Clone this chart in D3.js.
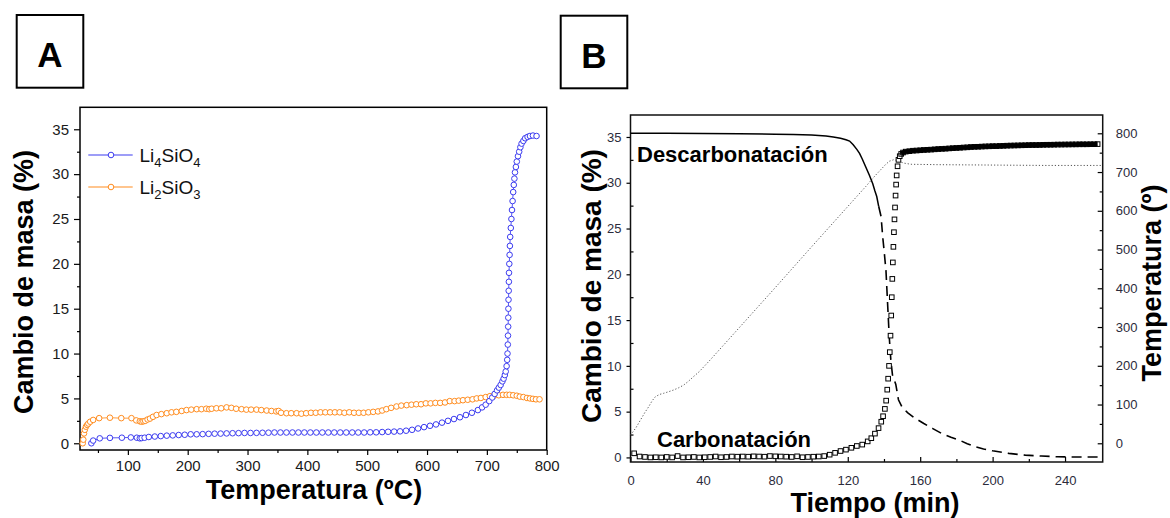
<!DOCTYPE html>
<html><head><meta charset="utf-8">
<script src="https://cdn.jsdelivr.net/npm/d3@7"></script>
<style>
html,body{margin:0;padding:0;background:#fff;}
svg{display:block;font-family:"Liberation Sans",Arial,sans-serif;}
</style></head>
<body><svg id="c" width="1170" height="518"></svg>
<script>
// ---------- Panel A data: [Temperatura (ºC), Cambio de masa (%)] ----------
const li4SiO4 = [[39,0.0],[42,0.3],[53,0.55],[70,0.6],[90,0.62],[105,0.65],[115,0.62],[120,0.55],[123,0.58],[128,0.62],[135,0.7],[145,0.75],[155,0.8],[165,0.85],[175,0.88],[185,0.92],[195,0.95],[205,1.0],[215,1.0],[225,1.02],[235,1.05],[245,1.07],[255,1.08],[265,1.1],[275,1.12],[285,1.13],[295,1.15],[305,1.15],[315,1.16],[325,1.17],[335,1.18],[345,1.2],[355,1.2],[365,1.2],[375,1.2],[385,1.2],[395,1.2],[405,1.2],[415,1.2],[425,1.2],[435,1.2],[445,1.2],[455,1.2],[465,1.2],[475,1.2],[485,1.2],[495,1.2],[505,1.22],[515,1.22],[525,1.25],[535,1.28],[545,1.3],[555,1.33],[565,1.4],[575,1.5],[585,1.65],[595,1.8],[605,1.95],[615,2.1],[625,2.3],[635,2.5],[645,2.7],[655,2.9],[665,3.15],[675,3.4],[685,3.7],[692,4.0],[698,4.3],[704,4.7],[709,5.1],[713,5.5],[717,5.9],[720,6.2],[723,6.5],[726,6.9],[728,7.2],[730,7.6],[731.5,8.0],[733,8.6],[734,9.3],[734.5,10],[735,11],[735.3,12],[735.6,13],[735.8,14],[736,15],[736.2,16],[736.5,17],[736.8,18],[737,19],[737.5,20],[738,21],[738.5,22],[739,23],[740,24],[741,25],[742,26],[743,27],[744,28],[745,28.8],[746,29.5],[747,30.2],[748.5,30.8],[750,31.4],[752,32],[754,32.5],[756,33],[758,33.4],[761,33.7],[764,34],[768,34.15],[772,34.25],[777,34.3],[783,34.25]];
const li2SiO3 = [[24.5,0],[25.5,0.4],[26.7,1.1],[28,1.5],[30,1.85],[32,2.05],[34,2.2],[37,2.4],[42,2.6],[52,2.8],[70,2.85],[89,2.8],[106,2.8],[114,2.55],[120,2.45],[123,2.4],[126,2.45],[129,2.5],[133,2.65],[137,2.75],[142,2.95],[148,3.15],[156,3.25],[165,3.35],[173,3.45],[181,3.5],[190,3.6],[198,3.7],[206,3.75],[215,3.8],[223,3.8],[231,3.85],[236,3.8],[240,3.85],[248,3.9],[256,3.9],[265,4.0],[273,3.95],[281,3.85],[290,3.8],[298,3.75],[306,3.75],[315,3.75],[323,3.7],[332,3.65],[340,3.6],[348,3.55],[352,3.6],[356,3.4],[365,3.35],[373,3.35],[382,3.35],[390,3.3],[398,3.35],[406,3.4],[414,3.4],[422,3.45],[430,3.45],[438,3.45],[446,3.45],[454,3.45],[462,3.4],[470,3.45],[478,3.4],[486,3.4],[494,3.4],[502,3.45],[510,3.5],[518,3.55],[525,3.65],[532,3.8],[540,3.95],[549,4.1],[557,4.2],[566,4.25],[574,4.3],[582,4.35],[590,4.35],[598,4.45],[606,4.45],[614,4.5],[622,4.5],[630,4.55],[638,4.7],[646,4.7],[653,4.75],[660,4.8],[668,4.85],[676,4.9],[683,5.0],[690,5.05],[698,5.15],[705,5.25],[712,5.3],[720,5.35],[727,5.4],[733,5.4],[738,5.4],[744,5.35],[750,5.3],[755,5.2],[761,5.15],[767,5.05],[772,5.0],[777,4.95],[782,4.9],[788,4.9]];
const ticksAX = [100,200,300,400,500,600,700,800];
const ticksAY = [0,5,10,15,20,25,30,35];

// ---------- Panel B data: [Tiempo (min), value] ----------
const carbonatacion = [[2,0.45],[5,0.1],[8,0.05],[11,0.0],[14,0.02],[17,0.0],[20,0.05],[23,0.0],[26,0.15],[29,0.0],[32,0.02],[35,0.05],[38,0.0],[41,0.02],[44,0.05],[47,0.1],[50,0.02],[53,0.05],[56,0.1],[59,0.08],[62,0.1],[65,0.08],[68,0.12],[71,0.1],[74,0.08],[77,0.15],[80,0.12],[83,0.1],[86,0.08],[89,0.05],[92,0.12],[95,0.02],[98,0.05],[101,0.08],[104,0.1],[107,0.15],[110,0.3],[113,0.5],[116,0.7],[119,0.85],[122,1.05],[125,1.25],[128,1.4],[131,1.75],[133,2.1],[135,2.6],[137,3.2],[138.5,3.9],[139.5,4.5],[140.5,5.3],[141.2,6.2],[141.8,7.4],[142.3,8.6],[142.8,10],[143.2,11.5],[143.6,13.3],[144,15.5],[144.3,17.5],[144.6,19.5],[144.9,21.3],[145.2,23],[145.5,24.6],[145.8,26],[146.1,27.3],[146.4,28.6],[146.7,29.8],[147,30.8],[147.5,31.8],[148,32.5],[148.7,32.9],[149.5,33.15],[150.5,33.3],[152,33.4],[154,33.45],[156,33.5],[158,33.52],[160,33.55],[162,33.58],[164,33.6],[166,33.62],[168,33.65],[170,33.68],[172,33.7],[174,33.72],[176,33.75],[178,33.78],[180,33.8],[182,33.82],[184,33.85],[186,33.87],[188,33.9],[190,33.92],[192,33.93],[194,33.95],[196,33.97],[198,33.98],[200,34.0],[202,34.0],[204,34.02],[206,34.03],[208,34.05],[210,34.06],[212,34.07],[214,34.08],[216,34.09],[218,34.1],[220,34.11],[222,34.12],[224,34.12],[226,34.13],[228,34.14],[230,34.15],[232,34.15],[234,34.16],[236,34.17],[238,34.17],[240,34.18],[242,34.18],[244,34.19],[246,34.19],[248,34.2],[250,34.2],[252,34.2],[254,34.21],[256,34.21],[258,34.22]];
const descarbSolid = [[0,35.4],[20,35.4],[40,35.38],[60,35.36],[80,35.3],[90,35.27],[100,35.22],[108,35.1],[112,35.0],[116,34.85],[119,34.7],[121,34.55],[123,34.15],[125,33.65],[126.5,33.2],[128,32.6],[130,31.7],[132,30.8],[133.8,29.9],[135,29.1],[136,28.5],[137.1,27.4]];
const descarbDashed = [[137.1,27.4],[138.4,26.3],[139.3,24.1],[140.2,22.3],[141.1,20.4],[142,16.8],[142.9,13.2],[143.8,10.6],[144.7,9.0],[146.5,8.0],[148,6.3],[150,5.5],[153,4.9],[157,4.3],[162,3.7],[167,3.15],[172,2.6],[177,2.2],[181.5,1.9],[186,1.5],[190.6,1.16],[195,0.92],[200,0.72],[209,0.44],[218,0.25],[227,0.15],[236,0.07],[245,0.05],[258.5,0.05]];
const temperatura = [[0,21],[3,40],[5.5,60],[8,80],[10,94],[12,110],[13.7,120],[16,126],[18.3,129],[21,133],[23.8,137.5],[26.5,143],[29.3,150],[32,160],[34.8,172],[38,185],[41,200],[44,215],[60,298],[80,402],[100,507],[120,611],[130,663],[135,690],[138,705],[141,720],[143,728],[145.5,732],[148,728],[151,723],[155,720],[170,719],[200,718],[230,717],[260,717]];
const ticksBX = [0,40,80,120,160,200,240];
const ticksBY = [0,5,10,15,20,25,30,35];
const ticksBT = [0,100,200,300,400,500,600,700,800];

const svg = d3.select("#c");
const FONT = '"Liberation Sans",Arial,sans-serif';

// ---------- panel label boxes ----------
function panelLabel(x0,y0,x1,y1,txt,cx,by){
  svg.append("rect").attr("x",x0).attr("y",y0).attr("width",x1-x0).attr("height",y1-y0)
    .attr("fill","none").attr("stroke","#000").attr("stroke-width",2);
  svg.append("text").attr("x",cx).attr("y",by).attr("text-anchor","middle")
    .attr("font-size",35).attr("font-weight","bold").text(txt);
}
panelLabel(16.7,15,83.3,87.7,"A",50,67);
panelLabel(560.7,15.7,627.3,88.3,"B",594,67.5);

// ================= Panel A =================
const xA = d3.scaleLinear([20,800],[80,546.7]);
const yA = d3.scaleLinear([-0.75,37.45],[450,107.3]);
const gA = svg.append("g");

function styleAxis(g,color,fs){
  g.select(".domain").remove();
  g.selectAll("line").attr("stroke","#000").attr("stroke-width",1.2);
  g.selectAll("text").attr("fill",color).attr("font-size",fs).attr("font-family",FONT);
}
gA.append("g").attr("transform","translate(0,450)")
  .call(d3.axisBottom(xA).tickValues(ticksAX).tickSize(5).tickPadding(5))
  .call(g=>styleAxis(g,"#1a1a1a",15));
gA.append("g").attr("transform","translate(0,450)")
  .call(d3.axisBottom(xA).tickValues(d3.range(50,800,100)).tickSize(3).tickFormat(""))
  .call(g=>styleAxis(g,"#000",15));
gA.append("g").attr("transform","translate(80,0)")
  .call(d3.axisLeft(yA).tickValues(ticksAY).tickSize(6).tickPadding(5))
  .call(g=>styleAxis(g,"#1a1a1a",15));
gA.append("g").attr("transform","translate(80,0)")
  .call(d3.axisLeft(yA).tickValues(d3.range(2.5,37,5)).tickSize(3).tickFormat(""))
  .call(g=>styleAxis(g,"#000",15));
gA.append("rect").attr("x",80).attr("y",107.3).attr("width",466.7).attr("height",342.7)
  .attr("fill","none").attr("stroke","#000").attr("stroke-width",1.5);

const blue="#3c3cf0", orange="#ff8c1e";
const lineA = d3.line().x(d=>xA(d[0])).y(d=>yA(d[1]));
[[li2SiO3,orange],[li4SiO4,blue]].forEach(([data,col])=>{
  gA.append("path").attr("d",lineA(data)).attr("fill","none").attr("stroke",col).attr("stroke-width",1).attr("opacity",0.85);
  gA.selectAll(null).data(data).enter().append("circle")
    .attr("cx",d=>xA(d[0])).attr("cy",d=>yA(d[1])).attr("r",2.8)
    .attr("fill","#fff").attr("stroke",col).attr("stroke-width",1);
});

// legend
function legendItem(y,col,a,b,c){
  gA.append("line").attr("x1",88.3).attr("x2",132.7).attr("y1",y).attr("y2",y).attr("stroke",col).attr("stroke-width",1.2);
  gA.append("circle").attr("cx",111).attr("cy",y).attr("r",2.8).attr("fill","#fff").attr("stroke",col).attr("stroke-width",1);
  const t=gA.append("text").attr("x",139.5).attr("y",y+7).attr("font-size",19).attr("fill","#111");
  t.append("tspan").text(a);
  t.append("tspan").attr("dy",5).attr("font-size",13).text(b);
  t.append("tspan").attr("dy",-5).text("SiO");
  t.append("tspan").attr("dy",5).attr("font-size",13).text(c);
}
legendItem(155,blue,"Li","4","4");
legendItem(187,orange,"Li","2","3");

// axis titles A
svg.append("text").attr("transform","translate(33,282) rotate(-90)").attr("text-anchor","middle")
  .attr("font-size",27).attr("font-weight","bold").text("Cambio de masa (%)");
svg.append("text").attr("x",314).attr("y",499).attr("text-anchor","middle")
  .attr("font-size",27).attr("font-weight","bold").text("Temperatura (ºC)");

// ================= Panel B =================
const xB = d3.scaleLinear([0,260.8],[630.5,1102.7]);
const yB = d3.scaleLinear([-0.5,37.4],[462,115]);
const yT = d3.scaleLinear([-48.3,847.2],[462,115]);
const gB = svg.append("g");
const lblB="#2b2b3b";

gB.append("g").attr("transform","translate(0,462)")
  .call(d3.axisBottom(xB).tickValues(ticksBX).tickSizeInner(-5).tickSizeOuter(0).tickPadding(14))
  .call(g=>styleAxis(g,lblB,13));
gB.append("g").attr("transform","translate(0,462)")
  .call(d3.axisBottom(xB).tickValues(d3.range(20,260,40)).tickSizeInner(-3).tickSizeOuter(0).tickFormat(""))
  .call(g=>styleAxis(g,"#000",13));
gB.append("g").attr("transform","translate(630.5,0)")
  .call(d3.axisLeft(yB).tickValues(ticksBY).tickSize(4).tickPadding(5))
  .call(g=>styleAxis(g,lblB,13));
gB.append("g").attr("transform","translate(630.5,0)")
  .call(d3.axisLeft(yB).tickValues(d3.range(2.5,37,5)).tickSizeInner(-3).tickSizeOuter(0).tickFormat(""))
  .call(g=>styleAxis(g,"#000",13));
gB.append("g").attr("transform","translate(1102.7,0)")
  .call(d3.axisRight(yT).tickValues(ticksBT).tickSizeInner(-5).tickSizeOuter(0).tickPadding(13))
  .call(g=>styleAxis(g,lblB,13));
gB.append("g").attr("transform","translate(1102.7,0)")
  .call(d3.axisRight(yT).tickValues(d3.range(50,800,100)).tickSizeInner(-3).tickSizeOuter(0).tickFormat(""))
  .call(g=>styleAxis(g,"#000",13));
gB.append("rect").attr("x",630.5).attr("y",115).attr("width",472.2).attr("height",347)
  .attr("fill","none").attr("stroke","#111").attr("stroke-width",1.5);

const lineB = d3.line().x(d=>xB(d[0])).y(d=>yB(d[1]));
const lineT = d3.line().x(d=>xB(d[0])).y(d=>yT(d[1]));
gB.append("path").attr("d",lineT(temperatura)).attr("fill","none").attr("stroke","#555")
  .attr("stroke-width",1).attr("stroke-dasharray","1.2,2");
gB.append("path").attr("d",lineB(descarbSolid)).attr("fill","none").attr("stroke","#000").attr("stroke-width",1.5);
gB.append("path").attr("d",lineB(descarbDashed)).attr("fill","none").attr("stroke","#000").attr("stroke-width",1.6).attr("stroke-dasharray","10,6");
// dense plateau of carbonation squares merges into a dark band
const plateau = carbonatacion.filter(d=>d[0]>=149.5);
gB.append("path").attr("d",lineB(plateau)).attr("fill","none").attr("stroke","#000").attr("stroke-width",4.5);
gB.selectAll(null).data(carbonatacion).enter().append("rect")
  .attr("x",d=>xB(d[0])-2.3).attr("y",d=>yB(d[1])-2.3).attr("width",4.6).attr("height",4.6)
  .attr("fill",d=>d[0]>=149.5?"none":"#fff").attr("stroke","#000").attr("stroke-width",1);

gB.append("text").attr("x",637).attr("y",162).attr("font-size",22).attr("font-weight","bold").text("Descarbonatación");
gB.append("text").attr("x",657).attr("y",447).attr("font-size",22).attr("font-weight","bold").text("Carbonatación");

svg.append("text").attr("transform","translate(601,286) rotate(-90)").attr("text-anchor","middle")
  .attr("font-size",28).attr("font-weight","bold").text("Cambio de masa (%)");
svg.append("text").attr("transform","translate(1161,283) rotate(-90)").attr("text-anchor","middle")
  .attr("font-size",27).attr("font-weight","bold").text("Temperatura (º)");
svg.append("text").attr("x",875).attr("y",512).attr("text-anchor","middle")
  .attr("font-size",27).attr("font-weight","bold").text("Tiempo (min)");
</script></body></html>
